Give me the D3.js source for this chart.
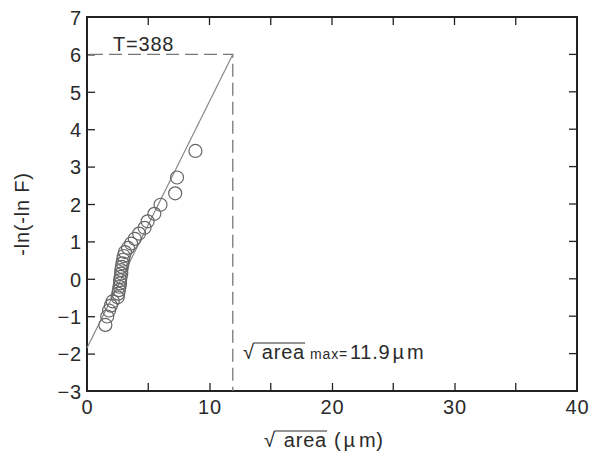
<!DOCTYPE html>
<html lang="en">

<head>
  <meta charset="utf-8">
  <title>Gumbel plot - sqrt(area) max</title>
  <script src="https://cdnjs.cloudflare.com/ajax/libs/d3/7.6.1/d3.min.js"></script>
  <style>
    body { margin: 0; background: #fff; }
    text { font-family: "Liberation Sans", Arial, sans-serif; fill: #2a2a2a; letter-spacing: 0.8px; }
  </style>
</head>

<body>

  <div id="chart"></div>

  <script>
    // data

    const sqrtArea = [1.5, 1.65, 1.8, 1.95, 2.1, 2.5, 2.55, 2.6, 2.65, 2.7,
      2.7, 2.75, 2.8, 2.8, 2.85, 2.9, 2.95, 3.0, 3.1, 3.35,
      3.6, 3.9, 4.25, 4.7, 4.95, 5.5, 6.0, 7.2, 7.35, 8.85];
    const reducedVariate = [-1.234, -1.008, -0.848, -0.717, -0.601, -0.496, -0.398, -0.303, -0.212, -0.124,
      -0.035, 0.052, 0.140, 0.230, 0.320, 0.413, 0.510, 0.610, 0.714, 0.825,
      0.943, 1.070, 1.209, 1.363, 1.537, 1.738, 1.980, 2.285, 2.708, 3.418];

    const fitX = [0, 11.9];
    const fitY = [-1.85, 6];

    const maxSqrtArea = 11.9;
    const returnLevel = 6;

    const xTicks = [0, 10, 20, 30, 40];
    const xMinorTicks = [5, 15, 25, 35];
    const yTicks = [-3, -2, -1, 0, 1, 2, 3, 4, 5, 6, 7];

    createChart('#chart', 594, 453);

    function createChart(elementId, width, height) {

      const margin = { top: 17, right: 17, bottom: 62, left: 87 };
      const w = width - margin.left - margin.right;
      const h = height - margin.top - margin.bottom;
      const fontSize = 20;

      const svg = d3.select(elementId)
        .append('svg')
        .attr('width', width)
        .attr('height', height);

      const g = svg.append('g')
        .attr('transform', `translate(${margin.left}, ${margin.top})`);

      const xScale = d3.scaleLinear().domain([0, 40]).range([0, w]);
      const yScale = d3.scaleLinear().domain([-3, 7]).range([h, 0]);

      // axes with inward ticks on all four sides

      const tickLen = 8;
      const axisColor = '#222';

      const xAxis = d3.axisBottom(xScale)
        .tickValues(xTicks)
        .tickSizeInner(-tickLen)
        .tickSizeOuter(0)
        .tickPadding(9);

      const xAxisG = g.append('g')
        .attr('transform', `translate(0, ${h})`)
        .call(xAxis);

      xAxisG.selectAll('.tick')
        .filter(d => d === 0 || d === 40)
        .select('line').remove();

      const yAxis = d3.axisLeft(yScale)
        .tickValues(yTicks)
        .tickSizeInner(-tickLen)
        .tickSizeOuter(0)
        .tickPadding(5)
        .tickFormat(d => d < 0 ? '\u2212' + Math.abs(d) : d);

      const yAxisG = g.append('g').call(yAxis);

      yAxisG.selectAll('.tick')
        .filter(d => d === -3 || d === 7)
        .select('line').remove();

      [xAxisG, yAxisG].forEach(a => {
        a.select('.domain').remove();
        a.selectAll('line').attr('stroke', axisColor).attr('stroke-width', 1.3);
        a.selectAll('text')
          .style('font-size', fontSize + 'px')
          .attr('fill', '#2a2a2a');
      });

      yAxisG.selectAll('.tick text').attr('dy', '0.36em');

      // minor x ticks (bottom) and top / right mirrored ticks

      g.append('g').selectAll('line')
        .data(xMinorTicks)
        .join('line')
        .attr('x1', d => xScale(d)).attr('x2', d => xScale(d))
        .attr('y1', h).attr('y2', h - tickLen)
        .attr('stroke', axisColor).attr('stroke-width', 1.3);

      g.append('g').selectAll('line')
        .data(xTicks.concat(xMinorTicks).filter(d => d > 0 && d < 40))
        .join('line')
        .attr('x1', d => xScale(d)).attr('x2', d => xScale(d))
        .attr('y1', 0).attr('y2', tickLen)
        .attr('stroke', axisColor).attr('stroke-width', 1.3);

      g.append('g').selectAll('line')
        .data(yTicks.filter(d => d > -3 && d < 7))
        .join('line')
        .attr('x1', w).attr('x2', w - tickLen)
        .attr('y1', d => yScale(d)).attr('y2', d => yScale(d))
        .attr('stroke', axisColor).attr('stroke-width', 1.3);

      // frame

      g.append('rect')
        .attr('x', 0).attr('y', 0)
        .attr('width', w).attr('height', h)
        .attr('fill', 'none')
        .attr('stroke', axisColor)
        .attr('stroke-width', 2);

      // dashed guide lines to the max estimate

      g.append('path')
        .attr('d', d3.line()([
          [xScale(0) + 3, yScale(returnLevel)],
          [xScale(maxSqrtArea), yScale(returnLevel)],
          [xScale(maxSqrtArea), yScale(-3)]
        ]))
        .attr('fill', 'none')
        .attr('stroke', '#777')
        .attr('stroke-width', 1.3)
        .attr('stroke-dasharray', '13,6');

      // fitted line

      g.append('line')
        .attr('x1', xScale(fitX[0])).attr('y1', yScale(fitY[0]))
        .attr('x2', xScale(fitX[1])).attr('y2', yScale(fitY[1]))
        .attr('stroke', '#888')
        .attr('stroke-width', 1.2);

      // points

      g.append('g').selectAll('circle')
        .data(sqrtArea)
        .join('circle')
        .attr('cx', d => xScale(d))
        .attr('cy', (d, i) => yScale(reducedVariate[i]))
        .attr('r', 6.5)
        .attr('fill', 'none')
        .attr('stroke', '#666')
        .attr('stroke-width', 1.2);

      // annotations

      g.append('text')
        .attr('x', 26).attr('y', 34)
        .style('font-size', fontSize + 'px')
        .text('T=388');

      sqrtLabel(g, 156, 342, fontSize, 7, [
        { text: 'max=', size: 14, gap: 5 },
        { text: '11.9', size: fontSize, gap: 2 },
        { text: '\u00b5', size: fontSize, gap: 2 },
        { text: 'm', size: fontSize, gap: 2 }
      ]);

      sqrtLabel(svg, 264, 447, fontSize, 8, [
        { text: '(', size: fontSize, gap: 7 },
        { text: '\u00b5', size: fontSize, gap: 2 },
        { text: 'm)', size: fontSize, gap: 3 }
      ]);

      // y axis title

      svg.append('text')
        .attr('transform', `translate(29, 214) rotate(-90)`)
        .attr('text-anchor', 'middle')
        .style('font-size', fontSize + 'px')
        .text('-ln(-ln F)');
    }

    // draws "√ area" with a vinculum, then the trailing pieces
    function sqrtLabel(parent, x, y, size, rootGap, rest) {
      const lg = parent.append('g');
      const root = lg.append('text')
        .attr('x', x).attr('y', y)
        .style('font-size', size + 'px')
        .text('\u221a');
      const rb = root.node().getBBox();
      const areaX = rb.x + rb.width + rootGap;
      const area = lg.append('text')
        .attr('x', areaX).attr('y', y)
        .style('font-size', size + 'px')
        .text('area');
      const ab = area.node().getBBox();
      lg.append('line')
        .attr('x1', rb.x + rb.width - 1.5).attr('x2', ab.x + ab.width)
        .attr('y1', rb.y + 2).attr('y2', rb.y + 2)
        .attr('stroke', '#2a2a2a')
        .attr('stroke-width', 1.2);
      let cx = ab.x + ab.width;
      rest.forEach(p => {
        const t = lg.append('text')
          .attr('x', cx + p.gap).attr('y', y)
          .style('font-size', p.size + 'px')
          .text(p.text);
        const b = t.node().getBBox();
        cx = b.x + b.width;
      });
    }
  </script>

</body>

</html>
